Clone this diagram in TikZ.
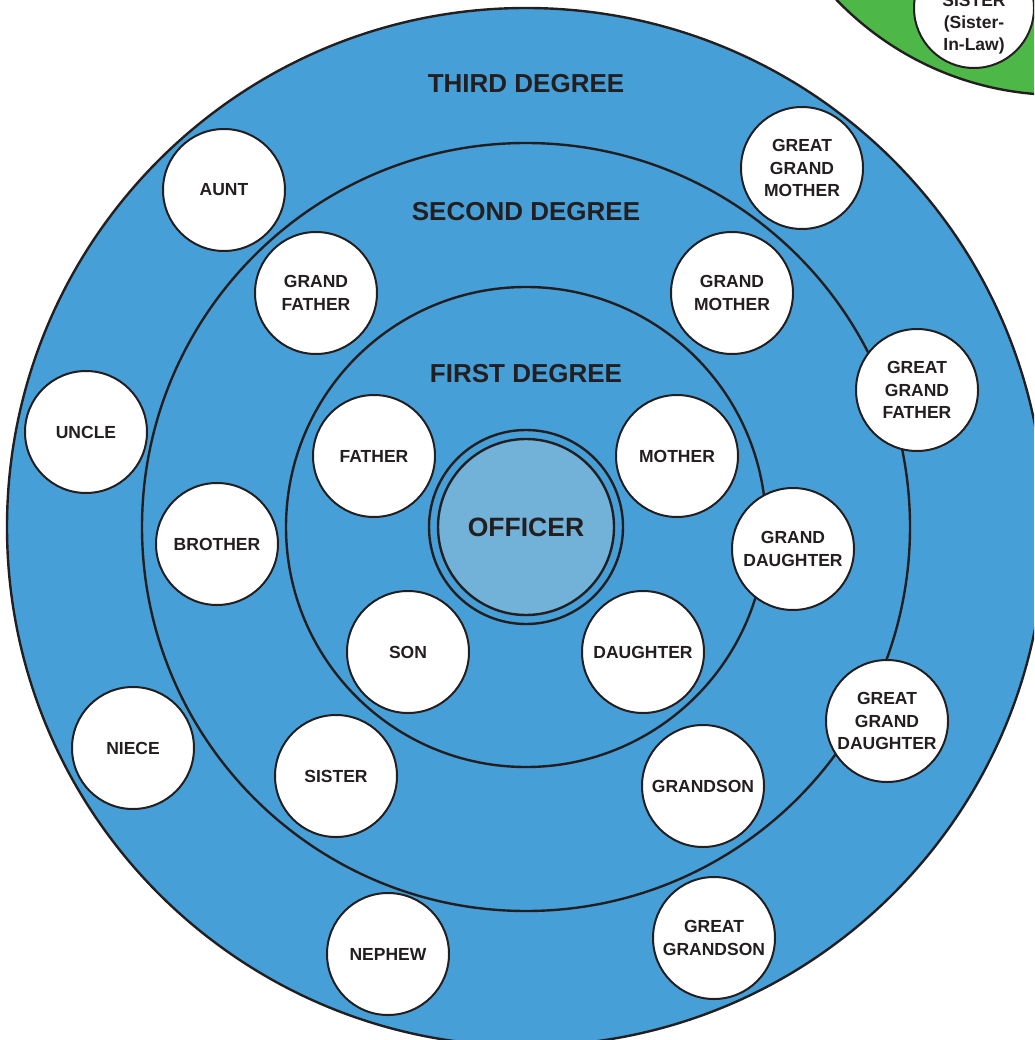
\documentclass[tikz,border=0pt]{standalone}
\usepackage{fontspec}
\setmainfont{Liberation Sans}
\definecolor{ringblue}{HTML}{479FD7}
\definecolor{offblue}{HTML}{72B1D8}
\definecolor{lawgreen}{HTML}{4DB848}
\definecolor{ink}{HTML}{231F20}
\begin{document}
\begin{tikzpicture}[x=1pt,y=-1pt,
  ring/.style={circle,draw=ink,line width=2.4pt,inner sep=0pt},
  person/.style={circle,draw=ink,fill=white,line width=2pt,minimum size=122pt,inner sep=0pt,
    align=center,text=ink,font=\bfseries\fontsize{17.5}{22.5}\selectfont},
  degree/.style={text=ink,font=\bfseries\fontsize{26}{30}\selectfont,inner sep=0pt}]
\useasboundingbox (0,0) rectangle (1034,1040);
\clip (0,0) rectangle (1034,1040);
% in-law (green) region
\node[circle,draw=ink,line width=2.4pt,fill=lawgreen,minimum size=620pt,inner sep=0pt] (inlaw) at (1060,-215) {};
\node[circle,draw=ink,fill=white,line width=2pt,minimum size=120pt,inner sep=0pt] (sisterlawc) at (974,8) {};
\node[text=ink,align=center,font=\bfseries\fontsize{17.5}{22}\selectfont] (sisterlaw) at (974,24) {SISTER\\(Sister-\\In-Law)};
% degree rings
\coordinate (c) at (526,527);
\node[ring,fill=ringblue,minimum size=1038pt] (third) at (c) {};
\node[ring,minimum size=768pt] (second) at (c) {};
\node[ring,minimum size=480pt] (first) at (c) {};
\node[ring,minimum size=194pt] (offring) at (c) {};
\node[ring,fill=offblue,minimum size=176pt] (officer) at (c) {};
\node[text=ink,font=\bfseries\fontsize{26.5}{30}\selectfont] (offlabel) at (c) {OFFICER};
% degree labels
\node[degree] (l3) at (526,84) {THIRD DEGREE};
\node[degree] (l2) at (526,212) {SECOND DEGREE};
\node[degree] (l1) at (526,374) {FIRST DEGREE};
% first degree
\node[person] (father) at (374,456) {FATHER};
\node[person] (mother) at (677,456) {MOTHER};
\node[person] (son) at (408,652) {SON};
\node[person] (daughter) at (643,652) {DAUGHTER};
% second degree
\node[person] (gfather) at (316,293) {GRAND\\FATHER};
\node[person] (gmother) at (732,293) {GRAND\\MOTHER};
\node[person] (gdaughter) at (793,549) {GRAND\\DAUGHTER};
\node[person] (brother) at (217,544) {BROTHER};
\node[person] (sister) at (336,776) {SISTER};
\node[person] (grandson) at (703,786) {GRANDSON};
% third degree
\node[person] (aunt) at (224,190) {AUNT};
\node[person] (uncle) at (86,432) {UNCLE};
\node[person] (niece) at (133,748) {NIECE};
\node[person] (nephew) at (388,954) {NEPHEW};
\node[person] (ggmother) at (802,168) {GREAT\\GRAND\\MOTHER};
\node[person] (ggfather) at (917,390) {GREAT\\GRAND\\FATHER};
\node[person] (ggdaughter) at (887,721) {GREAT\\GRAND\\DAUGHTER};
\node[person] (ggrandson) at (714,938) {GREAT\\GRANDSON};
\end{tikzpicture}
\end{document}
